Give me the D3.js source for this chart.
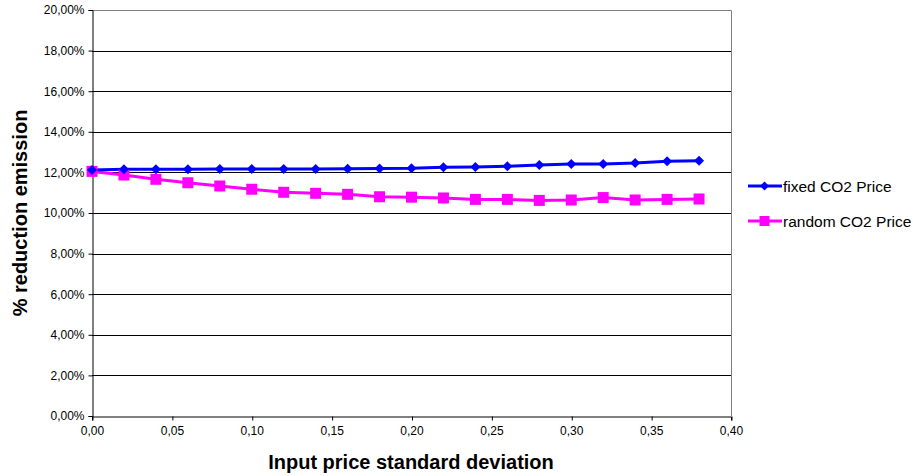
<!DOCTYPE html>
<html>
<head>
<meta charset="utf-8">
<script src="https://cdn.jsdelivr.net/npm/d3@7"></script>
<style>
  body { margin: 0; background: #fff; }
  svg { display: block; font-family: "Liberation Sans", Arial, sans-serif; }
</style>
</head>
<body>
<svg id="chart" width="913" height="476"></svg>
<script>
// data
const stdDev = [0, 0.02, 0.04, 0.06, 0.08, 0.10, 0.12, 0.14, 0.16, 0.18,
                0.20, 0.22, 0.24, 0.26, 0.28, 0.30, 0.32, 0.34, 0.36, 0.38];
const fixedPrice = [12.12, 12.16, 12.16, 12.16, 12.17, 12.17, 12.17, 12.17, 12.18, 12.19,
                    12.2, 12.25, 12.27, 12.3, 12.36, 12.41, 12.41, 12.46, 12.55, 12.58];
const randomPrice = [12.05, 11.87, 11.66, 11.49, 11.33, 11.17, 11.02, 10.97, 10.92, 10.8,
                     10.78, 10.74, 10.67, 10.67, 10.62, 10.64, 10.76, 10.64, 10.67, 10.69];
const xTicks = [0, 0.05, 0.10, 0.15, 0.20, 0.25, 0.30, 0.35, 0.40];
const yTicks = [0, 2, 4, 6, 8, 10, 12, 14, 16, 18, 20];
const seriesNames = ["fixed CO2 Price", "random CO2 Price"];

const svg = d3.select("#chart");
const plot = {left: 92, right: 731, top: 10, bottom: 416};

const x = d3.scaleLinear().domain([0, 0.40]).range([plot.left, plot.right]);
const y = d3.scaleLinear().domain([0, 20]).range([plot.bottom, plot.top]);

const comma = d => d.toFixed(2).replace(".", ",");

// gridlines
svg.append("g")
  .selectAll("line")
  .data(yTicks.filter(d => d > 0 && d < 20))
  .join("line")
  .attr("x1", plot.left).attr("x2", plot.right)
  .attr("y1", d => Math.round(y(d)) + 0.5).attr("y2", d => Math.round(y(d)) + 0.5)
  .attr("stroke", "#000").attr("stroke-width", 1);

// frame top / right in grey
svg.append("path")
  .attr("d", `M${plot.left},${plot.top + 0.5}H${plot.right + 0.5}V${plot.bottom}`)
  .attr("fill", "none").attr("stroke", "#808080").attr("stroke-width", 1);

// axes
const yAxis = svg.append("g")
  .attr("transform", `translate(${plot.left + 0.5},0)`)
  .call(d3.axisLeft(y).tickValues(yTicks).tickSize(4).tickPadding(4).tickFormat(d => comma(d) + "%"));
const xAxis = svg.append("g")
  .attr("transform", `translate(0,${plot.bottom + 0.5})`)
  .call(d3.axisBottom(x).tickValues(xTicks).tickSize(4).tickPadding(6).tickFormat(comma));

[xAxis, yAxis].forEach(a => {
  a.select(".domain").attr("stroke", "#000");
  a.selectAll(".tick line").attr("stroke", "#000");
  a.selectAll("text").attr("font-size", 12).attr("fill", "#000")
    .attr("font-family", "'Liberation Sans', Arial, sans-serif");
});
xAxis.selectAll(".tick line").attr("transform", "translate(0.5,0)");

// lines
const line = d3.line().x((d, i) => x(stdDev[i])).y(d => y(d));

svg.append("path").datum(randomPrice)
  .attr("d", line).attr("fill", "none").attr("stroke", "#ff00ff").attr("stroke-width", 3);
svg.append("path").datum(fixedPrice)
  .attr("d", line).attr("fill", "none").attr("stroke", "#0000ff").attr("stroke-width", 3);

const diamond = s => `M0,${-s}L${s},0L0,${s}L${-s},0Z`;

svg.append("g").selectAll("rect")
  .data(randomPrice).join("rect")
  .attr("x", (d, i) => x(stdDev[i]) - 5.5).attr("y", d => y(d) - 5.5)
  .attr("width", 11).attr("height", 11).attr("fill", "#ff00ff");

svg.append("g").selectAll("path")
  .data(fixedPrice).join("path")
  .attr("transform", (d, i) => `translate(${x(stdDev[i])},${y(d)})`)
  .attr("d", diamond(5)).attr("fill", "#0000ff");

// legend
const legend = svg.append("g").attr("transform", "translate(748,0)");
const legY = [186, 221];
const legColors = ["#0000ff", "#ff00ff"];
seriesNames.forEach((name, i) => {
  const g = legend.append("g").attr("transform", `translate(0,${legY[i]})`);
  g.append("line").attr("x1", 0).attr("x2", 34).attr("stroke", legColors[i]).attr("stroke-width", 3);
  if (i === 0) g.append("path").attr("transform", "translate(16.5,0)").attr("d", diamond(4.5)).attr("fill", legColors[i]);
  else g.append("rect").attr("x", 11.5).attr("y", -5).attr("width", 10).attr("height", 10).attr("fill", legColors[i]);
  g.append("text").attr("x", 35).attr("y", 0).attr("dy", "0.36em")
    .attr("font-size", 15.5).text(name);
});

// axis titles
svg.append("text")
  .attr("x", 411).attr("y", 469)
  .attr("text-anchor", "middle").attr("font-size", 20).attr("font-weight", "bold")
  .text("Input price standard deviation");

svg.append("text")
  .attr("transform", `translate(27,${(plot.top + plot.bottom) / 2}) rotate(-90)`)
  .attr("text-anchor", "middle").attr("font-size", 20).attr("font-weight", "bold")
  .text("% reduction emission");
</script>
</body>
</html>
